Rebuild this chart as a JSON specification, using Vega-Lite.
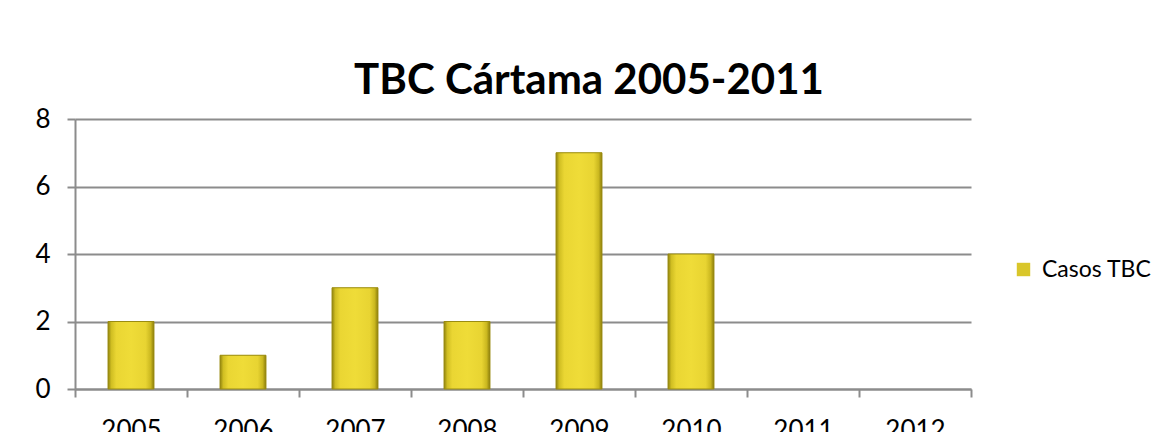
{
  "$schema": "https://vega.github.io/schema/vega-lite/v6.json",
  "autosize": {"type": "none"},
  "width": 896,
  "height": 270,
  "padding": {"left": 75, "top": 119, "right": 205, "bottom": 43},
  "background": "white",
  "title": {
    "text": "TBC Cártama 2005-2011",
    "font": "Lato",
    "fontSize": 42,
    "fontWeight": "bold",
    "color": "#000000",
    "anchor": "middle",
    "baseline": "alphabetic",
    "offset": 26,
    "dx": 66,
    "dy": 56
  },
  "config": {
    "view": {"stroke": null},
    "font": "Lato"
  },
  "data": {
    "values": [
      {"year": "2005", "casos": 2, "serie": "Casos TBC"},
      {"year": "2006", "casos": 1, "serie": "Casos TBC"},
      {"year": "2007", "casos": 3, "serie": "Casos TBC"},
      {"year": "2008", "casos": 2, "serie": "Casos TBC"},
      {"year": "2009", "casos": 7, "serie": "Casos TBC"},
      {"year": "2010", "casos": 4, "serie": "Casos TBC"},
      {"year": "2011", "casos": 0, "serie": "Casos TBC"},
      {"year": "2012", "casos": 0, "serie": "Casos TBC"}
    ]
  },
  "transform": [{"filter": "datum.casos > 0"}],
  "encoding": {
    "x": {
      "field": "year",
      "type": "ordinal",
      "scale": {"domain": ["2005", "2006", "2007", "2008", "2009", "2010", "2011", "2012"], "paddingInner": 0, "paddingOuter": 0},
      "axis": {
        "title": null,
        "labelAngle": 0,
        "labelFont": "Lato",
        "labelFontSize": 26,
        "labelColor": "#000000",
        "labelPadding": 20,
        "tickBand": "extent",
        "tickSize": 8,
        "tickColor": "#8c8c8c",
        "tickWidth": 2,
        "domainColor": "#8c8c8c",
        "domainWidth": 2,
        "grid": false
      }
    },
    "y": {
      "field": "casos",
      "type": "quantitative",
      "scale": {"domain": [0, 8]},
      "axis": {
        "title": null,
        "values": [0, 2, 4, 6, 8],
        "labelFont": "Lato",
        "labelFontSize": 26,
        "labelColor": "#000000",
        "labelPadding": 17,
        "tickSize": 8,
        "tickColor": "#8c8c8c",
        "tickWidth": 2,
        "domainColor": "#8c8c8c",
        "domainWidth": 2,
        "grid": true,
        "gridColor": "#8c8c8c",
        "gridWidth": 2
      }
    }
  },
  "layer": [
    {
      "mark": {"type": "bar", "width": {"band": 0.41}},
      "encoding": {
        "color": {
          "field": "serie",
          "type": "nominal",
          "scale": {"range": ["#d9c62a"]},
          "legend": {
            "title": null,
            "orient": "none",
            "legendX": 937,
            "legendY": 139,
            "symbolType": "square",
            "symbolSize": 180,
            "symbolStrokeWidth": 0,
            "labelFont": "Lato",
            "labelFontSize": 23,
            "labelColor": "#000000",
            "labelOffset": 7
          }
        }
      }
    },
    {
      "mark": {
        "type": "bar",
        "width": {"band": 0.41},
        "fill": {
          "x1": 0, "x2": 1, "y1": 0, "y2": 0,
          "gradient": "linear",
          "stops": [
            {"offset": 0, "color": "#8f820e"},
            {"offset": 0.07, "color": "#d0be22"},
            {"offset": 0.18, "color": "#ead633"},
            {"offset": 0.5, "color": "#efdc38"},
            {"offset": 0.82, "color": "#e8d432"},
            {"offset": 0.93, "color": "#cab71f"},
            {"offset": 1, "color": "#8a7c0c"}
          ]
        },
        "stroke": "#9a8c12",
        "strokeWidth": 1
      }
    }
  ]
}
